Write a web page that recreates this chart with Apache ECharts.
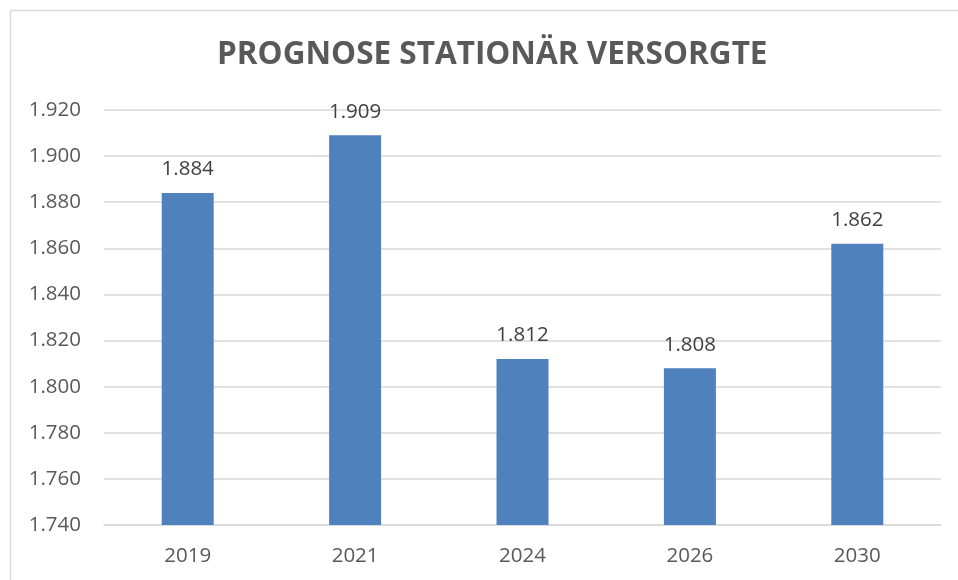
<!DOCTYPE html>
<html>
<head>
	<meta charset="utf-8">
	<script src="https://cdn.jsdelivr.net/npm/echarts@6/dist/echarts.min.js"></script>
	<title>Prognose stationär Versorgte</title>
	<style>
		body { margin: 0; background: #fff; }
	</style>
</head>
<body>
	<div id="main" style="width: 958px;height:580px;"></div>

	<script type="text/javascript">
	    // Daten
	    var jahre = ['2019', '2021', '2024', '2026', '2030'];
	    var versorgte = [1884, 1909, 1812, 1808, 1862];
	    var achseMin = 1740;
	    var achseMax = 1920;
	    var achseSchritt = 20;

	    // deutsche Tausenderpunkte
	    function fmt(v) {
	        return String(v).replace(/\B(?=(\d{3})+(?!\d))/g, '.');
	    }

	    var myChart = echarts.init(document.getElementById('main'));

	    var option = {
	        animation: false,
	        textStyle: { fontFamily: 'Open Sans' },
	        title: {
	            text: 'PROGNOSE STATIONÄR VERSORGTE',
	            left: 212,
	            top: 34,
	            textStyle: {
	                fontFamily: 'Open Sans',
	                fontSize: 31.5,
	                fontWeight: 'bold',
	                color: '#595959'
	            }
	        },
	        graphic: [{
	            type: 'rect',
	            shape: { x: 10.5, y: 10.5, width: 960, height: 600 },
	            style: { fill: 'none', stroke: '#d9d9d9', lineWidth: 1.5 },
	            silent: true
	        }],
	        grid: {
	            left: 104,
	            right: 17,
	            top: 110,
	            bottom: 55
	        },
	        xAxis: {
	            type: 'category',
	            data: jahre,
	            axisLine: { lineStyle: { color: '#d9d9d9', width: 1.5 } },
	            axisTick: { show: false },
	            axisLabel: { color: '#595959', fontSize: 20.5, margin: 21 }
	        },
	        yAxis: {
	            type: 'value',
	            min: achseMin,
	            max: achseMax,
	            interval: achseSchritt,
	            axisLine: { show: false },
	            axisTick: { show: false },
	            axisLabel: {
	                color: '#595959',
	                fontSize: 20.5,
	                margin: 23,
	                formatter: fmt
	            },
	            splitLine: { lineStyle: { color: '#d9d9d9', width: 1.5 } }
	        },
	        series: [{
	            name: 'Versorgte',
	            type: 'bar',
	            data: versorgte,
	            barWidth: 52,
	            itemStyle: { color: '#4f81bd' },
	            label: {
	                show: true,
	                position: 'top',
	                distance: 13,
	                color: '#404040',
	                fontSize: 20.5,
	                formatter: function (p) { return fmt(p.value); }
	            }
	        }]
	    };

	    myChart.setOption(option);
    </script>
</body>
</html>
